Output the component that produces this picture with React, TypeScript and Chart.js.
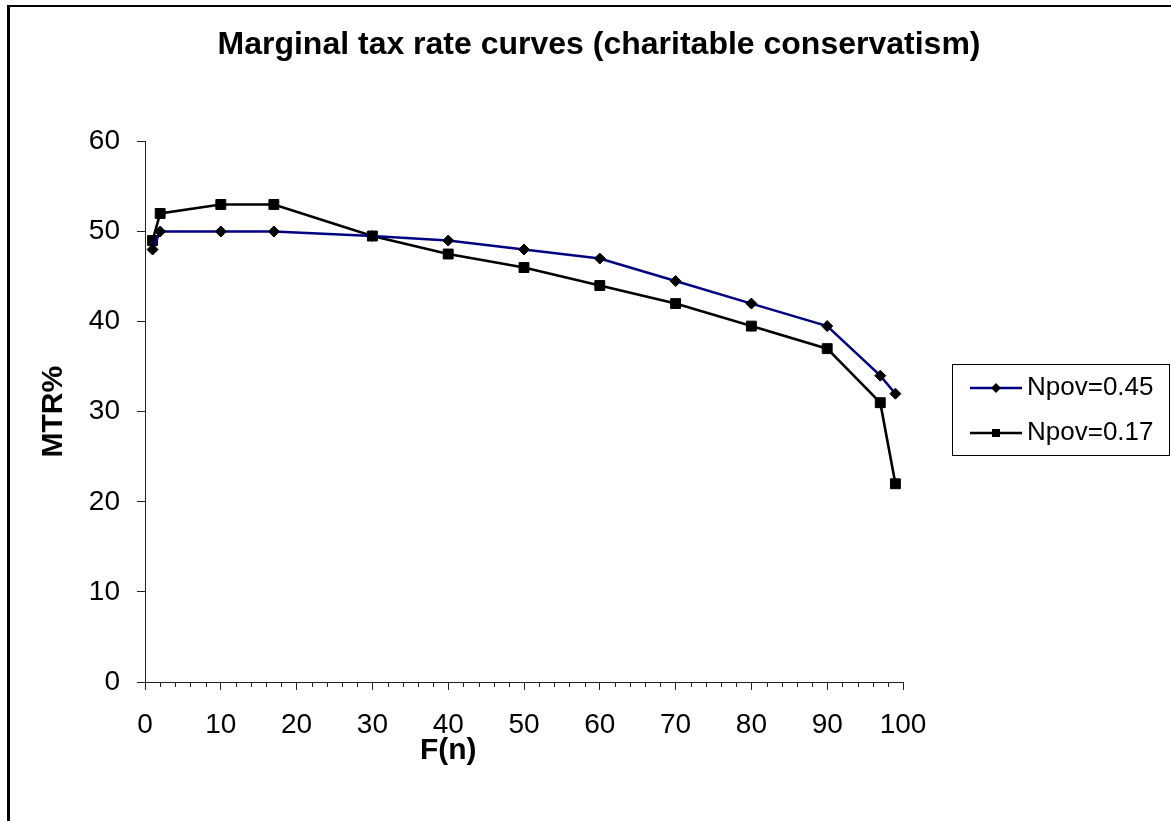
import React, { useEffect, useRef } from 'react';
import { Chart, registerables } from 'chart.js';

Chart.register(...registerables);

// ---- data ----
const fValues = [1, 2, 10, 17, 30, 40, 50, 60, 70, 80, 90, 97, 99];
const mtrNpov045 = [48, 50, 50, 50, 49.5, 49, 48, 47, 44.5, 42, 39.5, 34, 32];
const mtrNpov017 = [49, 52, 53, 53, 49.5, 47.5, 46, 44, 42, 39.5, 37, 31, 22];
const seriesLabels = ['Npov=0.45', 'Npov=0.17'];
const xAxisRange = [0, 100];
const xTickStep = 10;
const xMinorStep = 2;
const yAxisRange = [0, 60];
const yTickStep = 10;
const chartTitle = 'Marginal tax rate curves (charitable conservatism)';
const xAxisTitle = 'F(n)';
const yAxisTitle = 'MTR%';

const FONT = '"Liberation Sans", Arial, Helvetica, sans-serif';
const AXIS_COLOR = '#222';

const toPoints = (ys: number[]) => fValues.map((x, i) => ({ x, y: ys[i] }));

const decorPlugin = {
  id: 'decor',
  afterDraw(chart: any) {
    const { ctx, chartArea, scales } = chart;
    const xs = scales.x;
    ctx.save();
    // minor ticks on x axis
    ctx.strokeStyle = AXIS_COLOR;
    ctx.lineWidth = 1;
    ctx.beginPath();
    for (let v = xAxisRange[0]; v <= xAxisRange[1]; v += xMinorStep) {
      if (v % xTickStep === 0) continue;
      const px = Math.round(xs.getPixelForValue(v)) + 0.5;
      ctx.moveTo(px, chartArea.bottom);
      ctx.lineTo(px, chartArea.bottom + 5);
    }
    ctx.stroke();

    // x axis title
    ctx.font = `bold 30px ${FONT}`;
    ctx.fillStyle = '#000';
    ctx.textAlign = 'center';
    ctx.textBaseline = 'middle';
    ctx.fillText(xAxisTitle, chartArea.left + chartArea.width * 0.4, 751);

    // legend frame and samples
    const lg = chart.legend;
    const boxes = lg && lg.legendHitBoxes;
    if (boxes && boxes.length) {
      const c0 = boxes[0].top + boxes[0].height / 2;
      const cN = boxes[boxes.length - 1].top + boxes[boxes.length - 1].height / 2;
      const bx = Math.round(chartArea.right + 49) + 0.5;
      const by = Math.round(c0 - 24) + 0.5;
      const bw = 1169.5 - bx;
      const bh = Math.round(cN + 22) + 0.5 - by;
      ctx.strokeStyle = '#000';
      ctx.lineWidth = 1;
      ctx.strokeRect(bx, by, bw, bh);

      chart.data.datasets.forEach((ds: any, i: number) => {
        const hb = boxes[i];
        const cy = hb.top + hb.height / 2;
        const x0 = hb.left + 48;
        const x1 = hb.left + 100;
        ctx.strokeStyle = ds.borderColor;
        ctx.lineWidth = ds.borderWidth;
        ctx.beginPath();
        ctx.moveTo(x0, cy);
        ctx.lineTo(x1, cy);
        ctx.stroke();
        const mx = (x0 + x1) / 2;
        ctx.fillStyle = ds.pointBackgroundColor;
        ctx.beginPath();
        if (ds.pointStyle === 'rectRot') {
          const r = 5;
          ctx.moveTo(mx, cy - r);
          ctx.lineTo(mx + r, cy);
          ctx.lineTo(mx, cy + r);
          ctx.lineTo(mx - r, cy);
          ctx.closePath();
        } else {
          ctx.rect(mx - 4, cy - 4, 8, 8);
        }
        ctx.fill();
      });
    }
    ctx.restore();
  },
};

export default function App() {
  const canvasRef = useRef<HTMLCanvasElement | null>(null);

  useEffect(() => {
    const canvas = canvasRef.current;
    if (!canvas) return;
    const chart = new Chart(canvas, {
      type: 'line',
      data: {
        datasets: [
          {
            label: seriesLabels[0],
            data: toPoints(mtrNpov045),
            borderColor: '#000080',
            borderWidth: 2.5,
            pointStyle: 'rectRot',
            pointRadius: 5.5,
            pointBackgroundColor: '#000',
            pointBorderColor: '#000',
            pointBorderWidth: 1,
            tension: 0,
          },
          {
            label: seriesLabels[1],
            data: toPoints(mtrNpov017),
            borderColor: '#000',
            borderWidth: 2.6,
            pointStyle: 'rect',
            pointRadius: 7,
            pointBackgroundColor: '#000',
            pointBorderColor: '#000',
            pointBorderWidth: 1,
            tension: 0,
          },
        ],
      },
      options: {
        responsive: false,
        animation: false,
        devicePixelRatio: 1,
        events: [],
        layout: { padding: { left: 35, right: 8, top: 0, bottom: 0 } },
        scales: {
          x: {
            type: 'linear',
            position: 'bottom',
            min: xAxisRange[0],
            max: xAxisRange[1],
            ticks: {
              stepSize: xTickStep,
              color: '#000',
              font: { size: 28, family: FONT },
              padding: 18,
              maxRotation: 0,
              autoSkip: false,
            },
            grid: {
              display: true,
              drawOnChartArea: false,
              drawTicks: true,
              tickLength: 8,
              color: AXIS_COLOR,
              tickColor: AXIS_COLOR,
            },
            border: { display: true, color: AXIS_COLOR, width: 1 },
            afterFit: (s: any) => {
              s.height = 139;
            },
          },
          y: {
            type: 'linear',
            min: yAxisRange[0],
            max: yAxisRange[1],
            ticks: {
              stepSize: yTickStep,
              color: '#000',
              font: { size: 28, family: FONT },
              padding: 17,
            },
            grid: {
              display: true,
              drawOnChartArea: false,
              drawTicks: true,
              tickLength: 8,
              color: AXIS_COLOR,
              tickColor: AXIS_COLOR,
            },
            border: { display: true, color: AXIS_COLOR, width: 1 },
            title: {
              display: true,
              text: yAxisTitle,
              color: '#000',
              font: { size: 30, weight: 'bold', family: FONT, lineHeight: 1.2 },
              padding: { top: 1, bottom: 0 },
            },
            afterFit: (s: any) => {
              s.width = 110;
            },
          },
        },
        plugins: {
          title: {
            display: true,
            text: chartTitle,
            color: '#000',
            font: { size: 32, weight: 'bold', family: FONT, lineHeight: 1.2 },
            padding: { top: 26, bottom: 77 },
          },
          legend: {
            display: true,
            position: 'right',
            align: 'center',
            maxWidth: 260,
            labels: {
              boxWidth: 92,
              padding: 19,
              color: '#000',
              font: { size: 26, family: FONT },
              generateLabels: (c: any) =>
                c.data.datasets.map((ds: any, i: number) => ({
                  text: ds.label,
                  fillStyle: 'rgba(0,0,0,0)',
                  strokeStyle: 'rgba(0,0,0,0)',
                  lineWidth: 0,
                  hidden: false,
                  datasetIndex: i,
                  fontColor: '#000',
                })),
            },
          },
          tooltip: { enabled: false },
        },
      } as any,
      plugins: [decorPlugin],
    });
    return () => chart.destroy();
  }, []);

  return (
    <div
      style={{
        position: 'fixed',
        left: 0,
        top: 0,
        width: 1171,
        height: 821,
        overflow: 'hidden',
        background: '#fff',
      }}
    >
      <canvas
        ref={canvasRef}
        width={1171}
        height={821}
        style={{ position: 'absolute', left: 0, top: 0, width: 1171, height: 821 }}
      />
      <div
        style={{
          position: 'absolute',
          left: 7,
          top: 5,
          width: 1200,
          height: 900,
          borderLeft: '3px solid #000',
          borderTop: '2px solid #000',
          pointerEvents: 'none',
        }}
      />
    </div>
  );
}
